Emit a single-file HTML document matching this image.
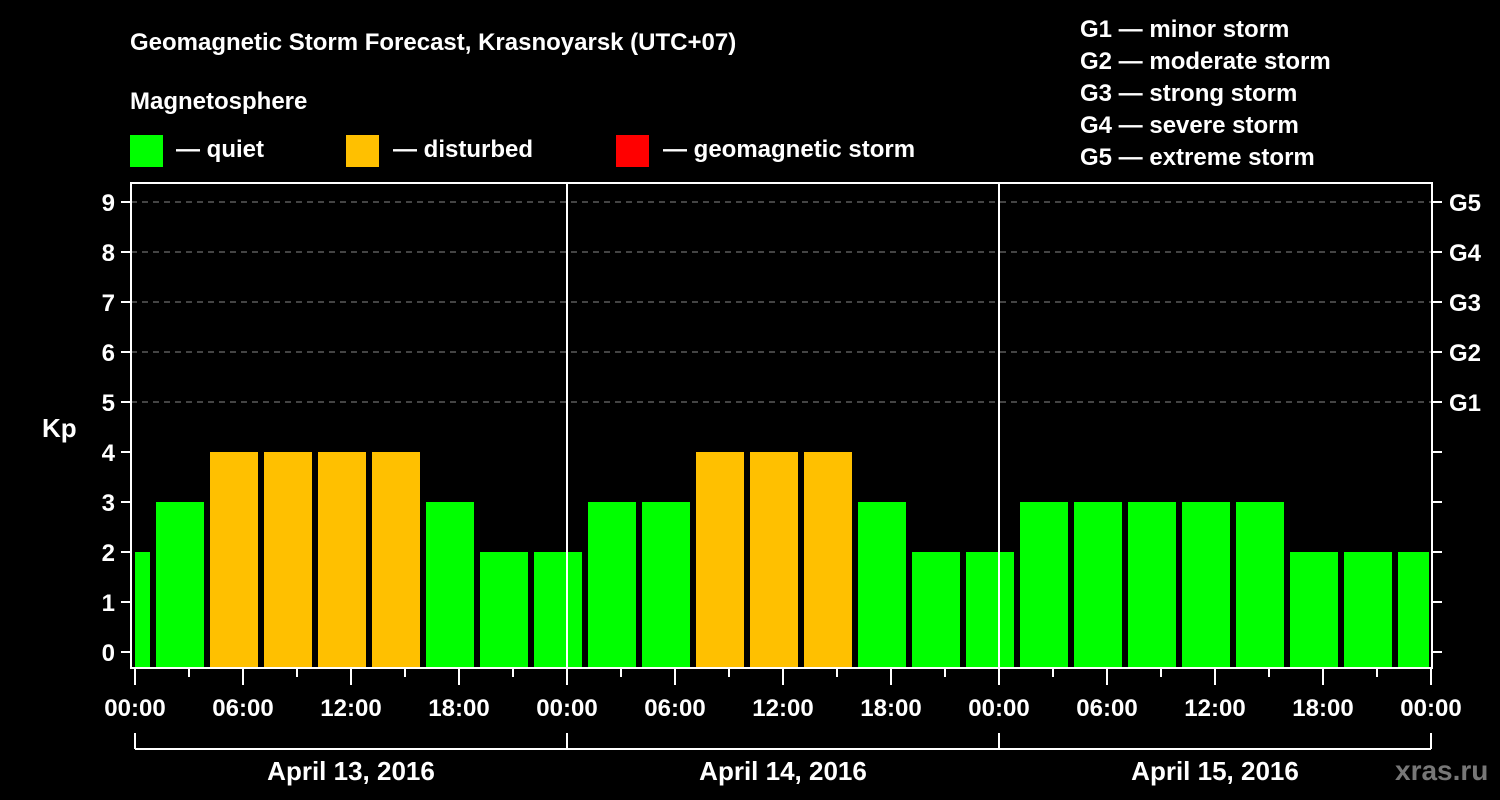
<!DOCTYPE html>
<html><head><meta charset="utf-8"><style>
html,body{margin:0;padding:0;background:#000;width:1500px;height:800px;overflow:hidden}
svg text{font-family:"Liberation Sans",sans-serif;font-weight:bold;fill:#fff}
</style></head><body>
<svg id="chart" width="1500" height="800">
<text x="130" y="50" font-size="24">Geomagnetic Storm Forecast, Krasnoyarsk (UTC+07)</text>
<text x="130" y="109" font-size="24">Magnetosphere</text>
<rect x="130" y="135" width="33" height="32" fill="#00ff00"/>
<text x="176" y="157" font-size="24">— quiet</text>
<rect x="346" y="135" width="33" height="32" fill="#ffc000"/>
<text x="393" y="157" font-size="24">— disturbed</text>
<rect x="616" y="135" width="33" height="32" fill="#ff0000"/>
<text x="663" y="157" font-size="24">— geomagnetic storm</text>
<g font-size="24">
<text x="1080" y="37">G1 — minor storm</text>
<text x="1080" y="69">G2 — moderate storm</text>
<text x="1080" y="101">G3 — strong storm</text>
<text x="1080" y="133">G4 — severe storm</text>
<text x="1080" y="165">G5 — extreme storm</text>
</g>
<text x="42" y="437" font-size="26">Kp</text>
<g id="grid"></g>
<g id="bars"></g>
<g id="axes"></g>
<text x="1395" y="780" font-size="28" style="fill:#777">xras.ru</text>
</svg>
<script>
const binStarts=[-2,1,4,7,10,13,16,19,22,25,28,31,34,37,40,43,46,49,52,55,58,61,64,67,70];
const kpValues=[2,3,4,4,4,4,3,2,2,3,3,4,4,4,3,2,2,3,3,3,3,3,2,2,2];
const xTickLabels=["00:00","06:00","12:00","18:00","00:00","06:00","12:00","18:00","00:00","06:00","12:00","18:00","00:00"];
const dayLabels=["April 13, 2016","April 14, 2016","April 15, 2016"];
const gLabels=["G1","G2","G3","G4","G5"];
const NS="http://www.w3.org/2000/svg";
const X0=135,PX=18,Y0=652,PY=50,L=131,R=1432,T=183,B=668;
const x=h=>X0+PX*h, y=v=>Y0-PY*v;
function mk(tag,attrs,parent){const e=document.createElementNS(NS,tag);for(const k in attrs)e.setAttribute(k,attrs[k]);parent.appendChild(e);return e;}
const grid=document.getElementById('grid'),bars=document.getElementById('bars'),axes=document.getElementById('axes');
for(let v=5;v<=9;v++){const l=mk('line',{x1:L,x2:R,y1:y(v),y2:y(v),stroke:'#888','stroke-dasharray':'6,5','stroke-width':1},grid);

}
binStarts.forEach((b,i)=>{const v=kpValues[i];
let x1=Math.max(x(b)+3,L+4),x2=Math.min(x(b)+51,R-3);
const r=mk('rect',{x:x1,y:y(v),width:x2-x1,height:B-y(v),fill:v>=5?'#ff0000':(v>=4?'#ffc000':'#00ff00')},bars);

});
const fr=mk('rect',{x:L,y:T,width:R-L,height:B-T,fill:'none',stroke:'#fff','stroke-width':2},axes);


[24,48].forEach(h=>{const l=mk('line',{x1:x(h),x2:x(h),y1:T,y2:B,stroke:'#fff','stroke-width':2},axes);

});
for(let v=0;v<=9;v++){
mk('line',{x1:L-10,x2:L,y1:y(v),y2:y(v),stroke:'#fff','stroke-width':2},axes);
mk('line',{x1:R,x2:R+10,y1:y(v),y2:y(v),stroke:'#fff','stroke-width':2},axes);
const t=mk('text',{x:L-16,y:y(v)+9,'font-size':24,'text-anchor':'end'},axes);t.textContent=v;


if(v>=5){const g=mk('text',{x:R+17,y:y(v)+9,'font-size':24},axes);g.textContent=gLabels[v-5];

}}
for(let h=0;h<=72;h+=3){mk('line',{x1:x(h),x2:x(h),y1:B,y2:B+(h%6===0?17:9),stroke:'#fff','stroke-width':2},axes);}
xTickLabels.forEach((s,i)=>{const t=mk('text',{x:x(i*6),y:716,'font-size':24,'text-anchor':'middle'},axes);t.textContent=s;

});
mk('line',{x1:x(0),x2:x(72),y1:749,y2:749,stroke:'#fff','stroke-width':2},axes);
[0,24,48,72].forEach(h=>mk('line',{x1:x(h),x2:x(h),y1:733,y2:749,stroke:'#fff','stroke-width':2},axes));
dayLabels.forEach((s,i)=>{const t=mk('text',{x:x(i*24+12),y:780,'font-size':26,'text-anchor':'middle'},axes);t.textContent=s;

});
</script>
</body></html>
